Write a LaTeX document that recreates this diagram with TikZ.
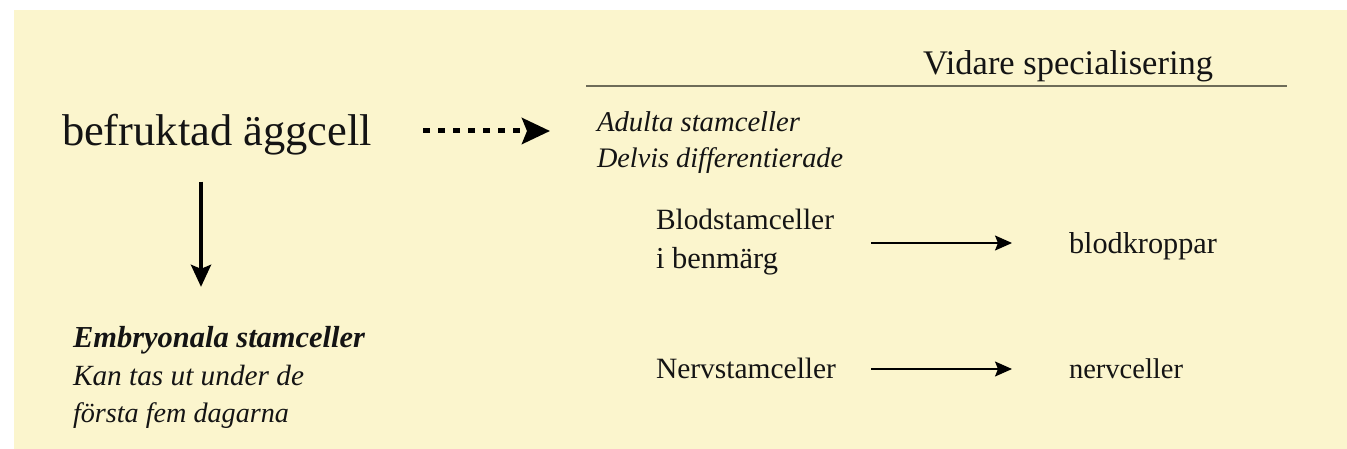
\documentclass[tikz,border=0pt]{standalone}
\usepackage{fontspec}
\setmainfont{Liberation Serif}
\usetikzlibrary{arrows.meta}
\definecolor{bgyellow}{HTML}{FBF5CD}
\definecolor{rulegray}{HTML}{6E6C58}
\definecolor{inkc}{HTML}{141414}
\newcommand{\fitw}[2]{\resizebox{#1pt}{!}{#2}}
\begin{document}
\begin{tikzpicture}[x=1pt,y=-1pt,
  txt/.style={anchor=base west, inner sep=0pt, outer sep=0pt, text=inkc},
  dasharrow/.style={line width=5pt, dash pattern=on 7pt off 8pt, -{Stealth[length=28pt,width=26pt,inset=5pt]}},
  vertarrow/.style={line width=4pt, -{Stealth[length=22pt,width=20pt,inset=4pt]}},
  thinarrow/.style={line width=1.5pt, -{Stealth[length=17pt,width=15pt,inset=3pt]}}]
\useasboundingbox (0,0) rectangle (1347,449);
\fill[bgyellow] (14,10) rectangle (1347,449);
% texts
\node[txt] (egg) at (62,146) {\fitw{310}{befruktad äggcell}};
\node[txt] (vidare) at (923,75) {\fitw{290}{Vidare specialisering}};
\node[txt] (adulta) at (597,132) {\fitw{203}{\itshape Adulta stamceller}};
\node[txt] (delvis) at (597,168) {\fitw{246}{\itshape Delvis differentierade}};
\node[txt] (blod1) at (656,230) {\fitw{178}{Blodstamceller}};
\node[txt] (blod2) at (656,268) {\fitw{122}{i benmärg}};
\node[txt] (nerv) at (656,378) {\fitw{180}{Nervstamceller}};
\node[txt] (blodk) at (1069,253) {\fitw{148}{blodkroppar}};
\node[txt] (nervc) at (1069,378) {\fitw{114}{nervceller}};
\node[txt] (emb1) at (73,347) {\fitw{292}{\bfseries\itshape Embryonala stamceller}};
\node[txt] (emb2) at (73,385) {\fitw{231}{\itshape Kan tas ut under de}};
\node[txt] (emb3) at (73,422) {\fitw{216}{\itshape första fem dagarna}};
% rule
\draw[rulegray, line width=2pt] (586,86) -- (1287,86);
% connectors
\draw[dasharrow, shorten <=51pt, shorten >=47pt] (egg.east |- 0,131) -- (adulta.west |- 0,131);
\draw[vertarrow, shorten <=26pt, shorten >=39pt] (egg.south -| 201,0) -- (emb1.north -| 201,0);
\draw[thinarrow, shorten <=37pt, shorten >=57pt] (blod1.east |- 0,243) -- (blodk.west |- 0,243);
\draw[thinarrow, shorten <=35pt, shorten >=57pt] (nerv.east |- 0,369) -- (nervc.west |- 0,369);
\end{tikzpicture}
\end{document}
